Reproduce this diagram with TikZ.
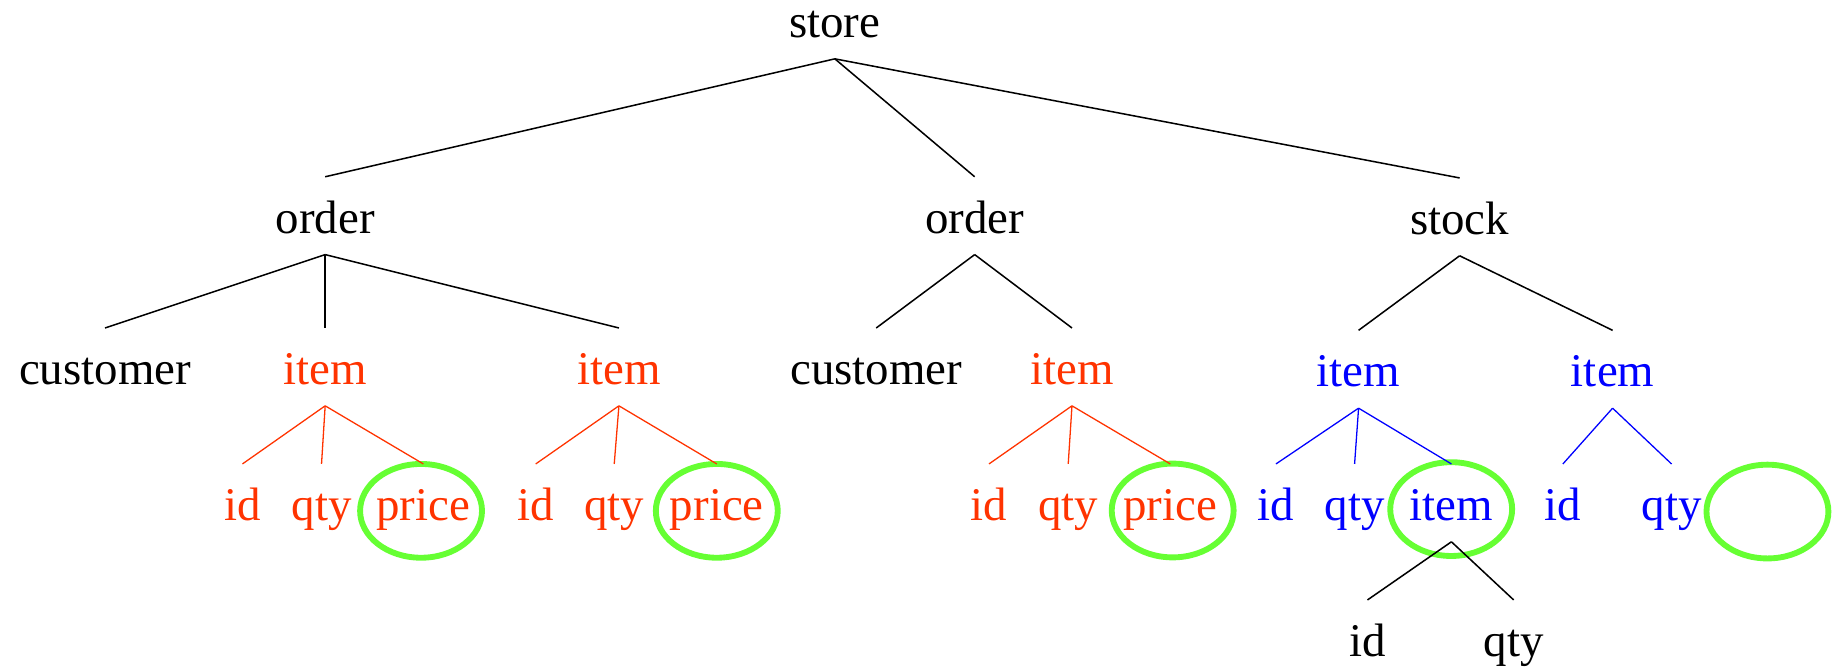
\documentclass[tikz,border=0pt]{standalone}
\usepackage{fontspec}
\setmainfont{Liberation Serif}
\usetikzlibrary{shapes.geometric}
\definecolor{treered}{RGB}{255,51,0}
\definecolor{treeblue}{RGB}{0,0,255}
\definecolor{ringgreen}{RGB}{102,255,51}
\tikzset{
  lbl/.style={anchor=base, inner sep=0pt, text height=48pt, text depth=18pt,
              font=\fontsize{40}{48}\selectfont},
  redlbl/.style={lbl, text=treered},
  bluelbl/.style={lbl, text=treeblue},
  blackedge/.style={draw=black, line width=1.3pt},
  rededge/.style={draw=treered, line width=1.1pt},
  blueedge/.style={draw=treeblue, line width=1.1pt},
  ring/.style={ellipse, draw=ringgreen, line width=5pt, inner sep=0pt,
               minimum width=104pt, minimum height=80pt}
}
\begin{document}
\begin{tikzpicture}[x=1pt, y=-1pt]
\useasboundingbox (0,0) rectangle (1568,570);

% highlight rings
\node[ring] (ring1) at (359.2,435.8) {};
\node[ring] (ring2) at (611.5,435.8) {};
\node[ring] (ring3) at (1000.4,435.5) {};
\node[ring] (ring4) at (1238.0,434.3) {};
\node[ring] (ring5) at (1507.8,436.4) {};

% level 0
\node[lbl] (store) at (712.2,32) {store};

% level 1
\node[lbl] (order1) at (277.4,199) {order};
\node[lbl] (order2) at (831.5,199) {order};
\node[lbl] (stock)  at (1245.2,200) {stock};

% level 2
\node[lbl]     (cust1) at (89.6,328)  {customer};
\node[redlbl]  (item1) at (277.4,328) {item};
\node[redlbl]  (item2) at (528.0,328) {item};
\node[lbl]     (cust2) at (747.5,328) {customer};
\node[redlbl]  (item3) at (914.5,328) {item};
\node[bluelbl] (item4) at (1159.0,330) {item};
\node[bluelbl] (item5) at (1375.7,330) {item};

% level 3
\node[redlbl]  (id1)    at (206.8,444)  {id};
\node[redlbl]  (qty1)   at (274.3,444)  {qty};
\node[redlbl]  (price1) at (361.2,444)  {price};
\node[redlbl]  (id2)    at (457.0,444)  {id};
\node[redlbl]  (qty2)   at (524.0,444)  {qty};
\node[redlbl]  (price2) at (611.5,444)  {price};
\node[redlbl]  (id3)    at (843.7,444)  {id};
\node[redlbl]  (qty3)   at (911.3,444)  {qty};
\node[redlbl]  (price3) at (998.4,444)  {price};
\node[bluelbl] (id4)    at (1088.5,444) {id};
\node[bluelbl] (qty4)   at (1155.6,444) {qty};
\node[bluelbl] (item6)  at (1238.2,444) {item};
\node[bluelbl] (id5)    at (1333.3,444) {id};
\node[bluelbl] (qty5)   at (1426.0,444) {qty};

% level 4
\node[lbl] (id6)  at (1166.6,560) {id};
\node[lbl] (qty6) at (1291.3,560) {qty};

% edges
\draw[blackedge] (store.south) -- (order1.north);
\draw[blackedge] (store.south) -- (order2.north);
\draw[blackedge] (store.south) -- (stock.north);

\draw[blackedge] (order1.south) -- (cust1.north);
\draw[blackedge] (order1.south) -- (item1.north);
\draw[blackedge] (order1.south) -- (item2.north);
\draw[blackedge] (order2.south) -- (cust2.north);
\draw[blackedge] (order2.south) -- (item3.north);
\draw[blackedge] (stock.south) -- (item4.north);
\draw[blackedge] (stock.south) -- (item5.north);

\draw[rededge] (item1.south) -- (id1.north);
\draw[rededge] (item1.south) -- (qty1.north);
\draw[rededge] (item1.south) -- (price1.north);
\draw[rededge] (item2.south) -- (id2.north);
\draw[rededge] (item2.south) -- (qty2.north);
\draw[rededge] (item2.south) -- (price2.north);
\draw[rededge] (item3.south) -- (id3.north);
\draw[rededge] (item3.south) -- (qty3.north);
\draw[rededge] (item3.south) -- (price3.north);

\draw[blueedge] (item4.south) -- (id4.north);
\draw[blueedge] (item4.south) -- (qty4.north);
\draw[blueedge] (item4.south) -- (item6.north);
\draw[blueedge] (item5.south) -- (id5.north);
\draw[blueedge] (item5.south) -- (qty5.north);

\draw[blackedge] (item6.south) -- (id6.north);
\draw[blackedge] (item6.south) -- (qty6.north);
\end{tikzpicture}
\end{document}
